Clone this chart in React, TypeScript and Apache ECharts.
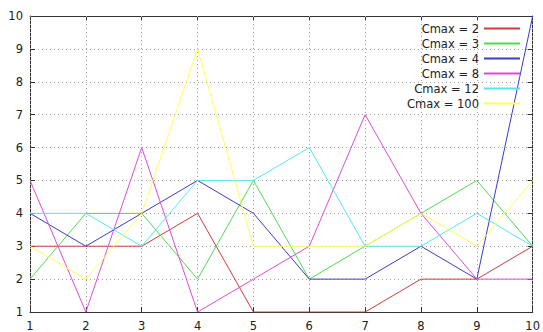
import React, { useEffect, useRef } from "react";
import * as echarts from "echarts";

const xValues = [1, 2, 3, 4, 5, 6, 7, 8, 9, 10];
const seriesNames = ["Cmax = 2", "Cmax = 3", "Cmax = 4", "Cmax = 8", "Cmax = 12", "Cmax = 100"];
const cmax2 = [3, 3, 3, 4, 1, 1, 1, 2, 2, 3];
const cmax3 = [2, 4, 4, 2, 5, 2, 3, 4, 5, 3];
const cmax4 = [4, 3, 4, 5, 4, 2, 2, 3, 2, 10];
const cmax8 = [5, 1, 6, 1, 2, 3, 7, 4, 2, 2];
const cmax12 = [4, 4, 3, 5, 5, 6, 3, 3, 4, 3];
const cmax100 = [3, 2, 4, 9, 3, 3, 3, 4, 3, 5];
const seriesValues = [cmax2, cmax3, cmax4, cmax8, cmax12, cmax100];
const colors = ["#d03c3c", "#52d852", "#3c3cc4", "#d84ed8", "#55e8e8", "#ffff55"];

const FONT = "DejaVu Sans";

export default function App() {
  const ref = useRef<HTMLDivElement>(null);
  useEffect(() => {
    document.body.style.margin = "0";
    const chart = echarts.init(ref.current!, undefined, { renderer: "svg" });
    const axisLine = { show: true, lineStyle: { color: "#333", width: 1 } };
    const tick = { show: true, inside: true, length: 5, lineStyle: { color: "#333", width: 1 } };
    const grid = { show: true, lineStyle: { color: "#a0a0a0", type: [1, 3] as any, width: 1 } };
    const label = { color: "#222", fontFamily: FONT, fontSize: 11.5 };
    chart.setOption({
      animation: false,
      backgroundColor: "#fff",
      grid: { left: 30, right: 10, top: 16, bottom: 18, containLabel: false },
      legend: {
        orient: "vertical",
        align: "right",
        right: 23,
        top: 21,
        padding: 0,
        itemGap: 0,
        itemWidth: 36,
        itemHeight: 2,
        icon: "rect",
        textStyle: { color: "#222", fontFamily: FONT, fontSize: 11.5, lineHeight: 15 },
        data: seriesNames,
      },
      xAxis: [
        {
          type: "value", min: 1, max: 10, interval: 1, position: "bottom", z: 3,
          axisLine, axisTick: tick, splitLine: grid,
          axisLabel: { ...label, margin: 8 },
        },
        {
          type: "value", min: 1, max: 10, interval: 1, position: "top",
          axisLine, axisTick: tick, splitLine: { show: false }, axisLabel: { show: false },
        },
      ],
      yAxis: [
        {
          type: "value", min: 1, max: 10, interval: 1, position: "left",
          axisLine, axisTick: tick, splitLine: grid,
          axisLabel: { ...label, margin: 7 },
        },
        {
          type: "value", min: 1, max: 10, interval: 1, position: "right",
          axisLine, axisTick: tick, splitLine: { show: false }, axisLabel: { show: false },
        },
      ],
      series: seriesNames.map((name, i) => ({
        name,
        type: "line",
        symbol: "none",
        showSymbol: false,
        color: colors[i],
        lineStyle: { color: colors[i], width: 1 },
        data: xValues.map((x, j) => [x, seriesValues[i][j]]),
      })),
    });
    return () => chart.dispose();
  }, []);
  return <div ref={ref} style={{ width: 543, height: 332 }} />;
}
